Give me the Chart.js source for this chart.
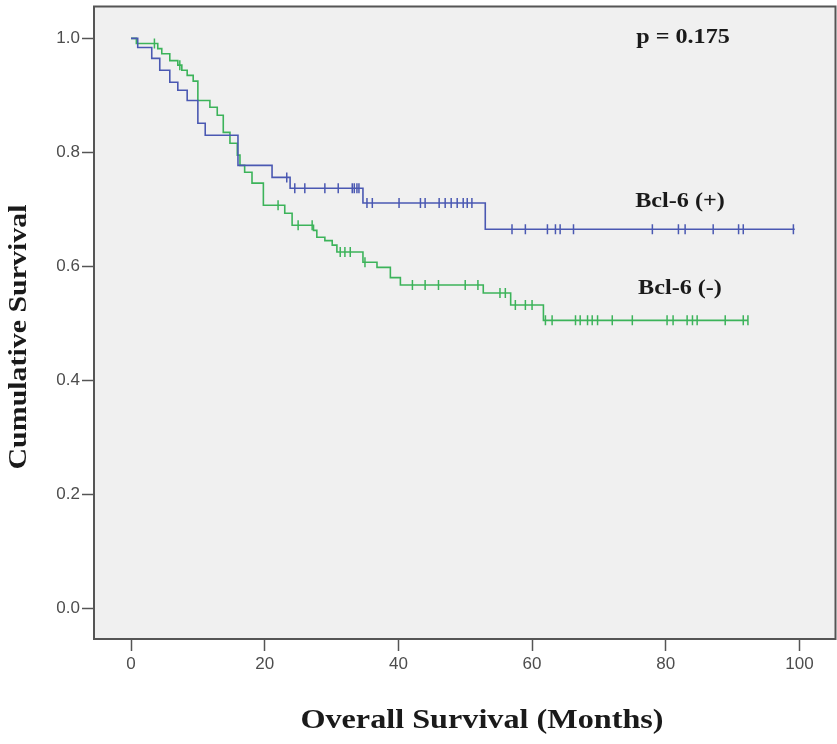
<!DOCTYPE html>
<html>
<head>
<meta charset="utf-8">
<script src="https://cdn.jsdelivr.net/npm/chart.js@4.4.0/dist/chart.umd.min.js"></script>
<style>
  html, body { margin: 0; padding: 0; background: #fff; overflow: hidden; }
  #wrap { width: 837px; height: 744px; overflow: hidden; }
</style>
</head>
<body>
<div id="wrap"><canvas id="km" width="842" height="744"></canvas></div>
<script>
// Kaplan-Meier steps: time (months) where survival drops, and the new survival
const posTimes = [0, 1.0, 3.1, 4.3, 5.8, 7.0, 8.4, 10.0, 11.1, 16.0, 21.1, 23.8, 34.7, 53.0];
const posSurv  = [1.0, 0.984, 0.965, 0.944, 0.923, 0.909, 0.891, 0.851, 0.830, 0.777, 0.756, 0.737, 0.711, 0.665];
const posEnd = 99.3;
const posCensored = [23.3, 24.5, 26.0, 29.0, 31.0, 33.1, 33.4, 33.8, 34.1, 35.3, 36.1, 40.1, 43.3, 44.0,
  46.1, 47.0, 47.9, 48.8, 49.7, 50.3, 51.0, 57.0, 59.0, 62.3, 63.5, 64.2, 66.2, 78.0, 81.9, 82.9,
  87.1, 90.9, 91.6, 99.1];

const negTimes = [0, 0.8, 4.0, 4.6, 5.8, 7.0, 7.6, 8.4, 9.3, 10.0, 11.8, 12.9, 13.8, 14.8, 15.9, 16.3,
  17.0, 18.1, 19.8, 23.0, 24.1, 27.3, 27.8, 29.0, 30.1, 30.8, 34.7, 36.8, 38.8, 40.3, 52.7, 56.8, 61.7];
const negSurv  = [1.0, 0.991, 0.982, 0.973, 0.961, 0.953, 0.944, 0.935, 0.925, 0.891, 0.879, 0.865, 0.835,
  0.816, 0.795, 0.777, 0.765, 0.746, 0.707, 0.693, 0.672, 0.663, 0.651, 0.645, 0.637, 0.625, 0.607,
  0.598, 0.580, 0.567, 0.553, 0.532, 0.505];
const negEnd = 92.3;
const negCensored = [3.5, 7.3, 22.0, 25.0, 27.1, 31.3, 32.0, 32.8, 35.0, 42.1, 44.0, 46.0, 50.0, 51.9,
  55.2, 56.0, 57.5, 59.0, 60.0, 62.0, 63.0, 66.5, 67.2, 68.3, 69.0, 69.8, 72.0, 75.0, 80.2, 81.1,
  83.2, 84.0, 84.7, 88.9, 91.6, 92.3];

const xTicks = [0, 20, 40, 60, 80, 100];
const yTicks = [0, 0.2, 0.4, 0.6, 0.8, 1.0];

const BLUE = '#4a58b2';
const GREEN = '#3cb35a';

function curve(times, surv, end) {
    const pts = times.map((t, i) => ({ x: t, y: surv[i] }));
    pts.push({ x: end, y: surv[surv.length - 1] });
    return pts;
}

// survival value of the curve at time t (for placing censor ticks)
function survAt(times, surv, t) {
    let s = surv[0];
    for (let i = 0; i < times.length; i++) {
        if (times[i] <= t) s = surv[i];
    }
    return s;
}

function censorPoints(times, surv, censored) {
    return censored.map(t => ({ x: t, y: survAt(times, surv, t) }));
}

function drawText(ctx, text, x, y, font, stretch, rotate) {
    ctx.save();
    ctx.translate(x, y);
    if (rotate) ctx.rotate(rotate);
    ctx.scale(stretch, 1);
    ctx.font = font;
    ctx.fillStyle = '#1a1a1a';
    ctx.textAlign = 'center';
    ctx.textBaseline = 'middle';
    ctx.fillText(text, 0, 0);
    ctx.restore();
}

// no extra label padding: the frame sits where the reference puts it
function noPad(s) {
    s.paddingTop = 0;
    s.paddingBottom = 0;
    s.paddingLeft = 0;
    s.paddingRight = 0;
}

const framePlugin = {
    id: 'frame',
    beforeDraw(chart) {
        const { ctx, chartArea: a } = chart;
        ctx.save();
        ctx.fillStyle = '#f0f0f0';
        ctx.fillRect(a.left, a.top, a.right - a.left, a.bottom - a.top);
        ctx.restore();
    },
    afterDraw(chart) {
        const { ctx, chartArea: a } = chart;
        ctx.save();
        ctx.strokeStyle = '#555';
        ctx.lineWidth = 2;
        ctx.strokeRect(a.left, a.top, a.right - a.left, a.bottom - a.top);
        ctx.restore();

        const serif = 'bold {s}px "Liberation Serif", "Times New Roman", serif';
        drawText(ctx, 'p = 0.175', 683, 38, serif.replace('{s}', 21), 1.15);
        drawText(ctx, 'Bcl-6 (+)', 680, 202, serif.replace('{s}', 21), 1.15);
        drawText(ctx, 'Bcl-6 (-)', 680, 289, serif.replace('{s}', 21), 1.15);
        drawText(ctx, 'Overall Survival (Months)', 482, 721, serif.replace('{s}', 28), 1.15);
        drawText(ctx, 'Cumulative Survival', 19, 337, serif.replace('{s}', 26), 1.15, -Math.PI / 2);
    }
};

const tickFont = { family: '"Liberation Sans", Arial, sans-serif', size: 17 };

new Chart(document.getElementById('km'), {
    type: 'scatter',
    data: {
        datasets: [
            {
                type: 'line',
                label: 'Bcl-6 (+)',
                data: curve(posTimes, posSurv, posEnd),
                borderColor: BLUE,
                borderWidth: 1.6,
                stepped: 'before',
                pointRadius: 0,
                fill: false
            },
            {
                type: 'line',
                label: 'Bcl-6 (-)',
                data: curve(negTimes, negSurv, negEnd),
                borderColor: GREEN,
                borderWidth: 1.6,
                stepped: 'before',
                pointRadius: 0,
                fill: false
            },
            {
                label: 'Bcl-6 (+) censored',
                data: censorPoints(posTimes, posSurv, posCensored),
                pointStyle: 'line',
                rotation: 90,
                radius: 5,
                borderColor: BLUE,
                borderWidth: 1.5
            },
            {
                label: 'Bcl-6 (-) censored',
                data: censorPoints(negTimes, negSurv, negCensored),
                pointStyle: 'line',
                rotation: 90,
                radius: 5,
                borderColor: GREEN,
                borderWidth: 1.5
            }
        ]
    },
    options: {
        responsive: false,
        animation: false,
        devicePixelRatio: 1,
        layout: { padding: { top: 6, right: 2, left: 0, bottom: 0 } },
        plugins: {
            legend: { display: false },
            tooltip: { enabled: false }
        },
        scales: {
            x: {
                type: 'linear',
                min: -5.54,
                max: 105.4,
                afterFit: s => { s.height = 105; noPad(s); },
                afterBuildTicks: s => { s.ticks = xTicks.map(v => ({ value: v })); },
                ticks: { font: tickFont, color: '#4d4d4d', padding: 3, maxRotation: 0, includeBounds: false },
                grid: { drawOnChartArea: false, drawTicks: true, tickLength: 12, tickColor: '#555', tickWidth: 1.5 },
                border: { display: false }
            },
            y: {
                type: 'linear',
                min: -0.0544,
                max: 1.056,
                afterFit: s => { s.width = 94; noPad(s); },
                afterBuildTicks: s => { s.ticks = yTicks.map(v => ({ value: v })); },
                ticks: { font: tickFont, color: '#4d4d4d', padding: 2, includeBounds: false,
                         callback: v => v.toFixed(1) },
                grid: { drawOnChartArea: false, drawTicks: true, tickLength: 12, tickColor: '#555', tickWidth: 1.5 },
                border: { display: false }
            }
        }
    },
    plugins: [framePlugin]
});
</script>
</body>
</html>
